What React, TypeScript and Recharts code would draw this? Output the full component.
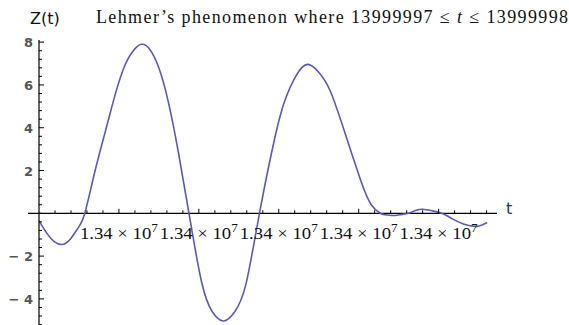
import React from "react";
import { LineChart, Line, XAxis, YAxis, ReferenceLine, ReferenceDot } from "recharts";

// Range of t shown along the axis
const T_START = 13999997;
const AXIS_END = 13999998.02;
const AXIS_LEFT_OVERHANG = 13999996.9755;

// Z(t) samples: offsets from T_START and the function value there
const tOffsets = [
  0.0, 0.018, 0.034, 0.051, 0.068, 0.086, 0.102, 0.125, 0.15, 0.169, 0.19, 0.21,
  0.228, 0.246, 0.266, 0.287, 0.31, 0.334, 0.362, 0.386, 0.411, 0.436, 0.461,
  0.491, 0.526, 0.548, 0.573, 0.598, 0.622, 0.648, 0.682, 0.719, 0.74, 0.76,
  0.776, 0.793, 0.808, 0.822, 0.84, 0.855, 0.875, 0.897, 0.92, 0.945, 0.975, 0.998,
];
const zValues = [
  -0.35, -0.95, -1.32, -1.46, -1.25, -0.72, 0.0, 2.0, 4.0, 5.5, 6.85, 7.6,
  7.9, 7.68, 6.85, 5.3, 2.9, 0.0, -3.2, -4.6, -5.03, -4.6, -3.3,
  0.0, 3.6, 5.3, 6.45, 6.96, 6.62, 5.75, 3.72, 1.39, 0.4, 0.0,
  -0.08, -0.1, -0.05, 0.0, 0.14, 0.19, 0.12, 0.0, -0.25, -0.5, -0.61, -0.43,
];

// Axis ticks
const xMinorStep = 0.0356;
const xTickCount = 28;
const xMajorEvery = 5;
const xTickLabel = "1.34 × 10";
const xTickExponent = "7";
const yMajorTicks = [-4, -2, 2, 4, 6, 8];
const yTickStep = 0.4;
const Y_MIN = -5.22;
const Y_MAX = 8.1;

const titleLeft = "Z(t)";
const axisVariable = "t";

const data = tOffsets.map((d, i) => ({ t: T_START + d, z: zValues[i] }));

const xTicks = Array.from({ length: xTickCount }, (_, i) => ({
  t: T_START + (i + 1) * xMinorStep,
  major: (i + 1) % xMajorEvery === 0,
}));

const yTicks: number[] = [];
for (let k = Math.ceil(Y_MIN / yTickStep); k * yTickStep <= 8.0001; k++) {
  yTicks.push(Math.round(k * yTickStep * 10) / 10);
}

const W = 569;
const H = 325;
const AXIS_COLOR = "#000";
const CURVE_COLOR = "#5a5ab6";

const renderYTick = (props: any) => {
  const { x, y, payload } = props;
  const v = payload.value as number;
  const major = yMajorTicks.includes(v);
  return (
    <g>
      <line x1={x} y1={y} x2={x + (major ? 5 : 3)} y2={y} stroke={AXIS_COLOR} strokeWidth={1} />
      {major && (
        <text
          x={x - 6}
          y={y + 5}
          textAnchor="end"
          fontFamily="DejaVu Sans"
          fontSize={13}
          fontWeight="bold"
          fill="#555"
        >
          {v < 0 ? `\u2212 ${Math.abs(v)}` : `${v}`}
        </text>
      )}
    </g>
  );
};

const makeXTickShape = (major: boolean) => (props: any) => {
  const { cx, cy } = props;
  return (
    <g>
      <line x1={cx} y1={cy} x2={cx} y2={cy - (major ? 4.5 : 3)} stroke={AXIS_COLOR} strokeWidth={1} />
      {major && (
        <text
          x={cx}
          y={cy + 25.5}
          textAnchor="middle"
          fontFamily="Liberation Serif"
          fontSize={17}
          fill="#111"
          textLength={78}
          lengthAdjust="spacingAndGlyphs"
        >
          {xTickLabel}
          <tspan dy={-7} fontSize={12}>
            {xTickExponent}
          </tspan>
        </text>
      )}
    </g>
  );
};

export default function App() {
  return (
    <div style={{ position: "absolute", left: 0, top: 0, width: W, height: H, background: "#fff" }}>
      <LineChart
        width={W}
        height={H}
        data={data}
        margin={{ top: 40, right: 72, bottom: 0, left: 0 }}
      >
        <XAxis
          dataKey="t"
          type="number"
          domain={[T_START, AXIS_END]}
          allowDataOverflow
          hide
        />
        <YAxis
          type="number"
          domain={[Y_MIN, Y_MAX]}
          allowDataOverflow
          width={39}
          ticks={yTicks}
          interval={0}
          tickSize={0}
          tickMargin={0}
          tickLine={false}
          axisLine={{ stroke: AXIS_COLOR, strokeWidth: 1.2 }}
          tick={renderYTick}
        />
        <ReferenceLine
          segment={[
            { x: AXIS_LEFT_OVERHANG, y: 0 },
            { x: AXIS_END, y: 0 },
          ]}
          ifOverflow="visible"
          stroke={AXIS_COLOR}
          strokeWidth={1.3}
        />
        {xTicks.map((tk) => (
          <ReferenceDot
            key={tk.t}
            x={tk.t}
            y={0}
            r={0}
            ifOverflow="visible"
            shape={makeXTickShape(tk.major)}
          />
        ))}
        <Line
          type="natural"
          dataKey="z"
          stroke={CURVE_COLOR}
          strokeWidth={1.6}
          dot={false}
          isAnimationActive={false}
        />
      </LineChart>
      <svg
        width={W}
        height={H}
        style={{ position: "absolute", left: 0, top: 0, pointerEvents: "none" }}
      >
        <text x={30} y={24} fontFamily="DejaVu Sans" fontSize={16} fill="#111">
          {titleLeft}
        </text>
        <text x={96} y={23} fontFamily="Liberation Serif" fontSize={18} fill="#111" textLength={472}>
          {"Lehmer\u2019s phenomenon where 13999997 \u2264 "}
          <tspan fontStyle="italic">t</tspan>
          {" \u2264 13999998"}
        </text>
        <text x={506} y={214} fontFamily="DejaVu Sans" fontSize={16} fill="#1e3658">
          {axisVariable}
        </text>
      </svg>
    </div>
  );
}
